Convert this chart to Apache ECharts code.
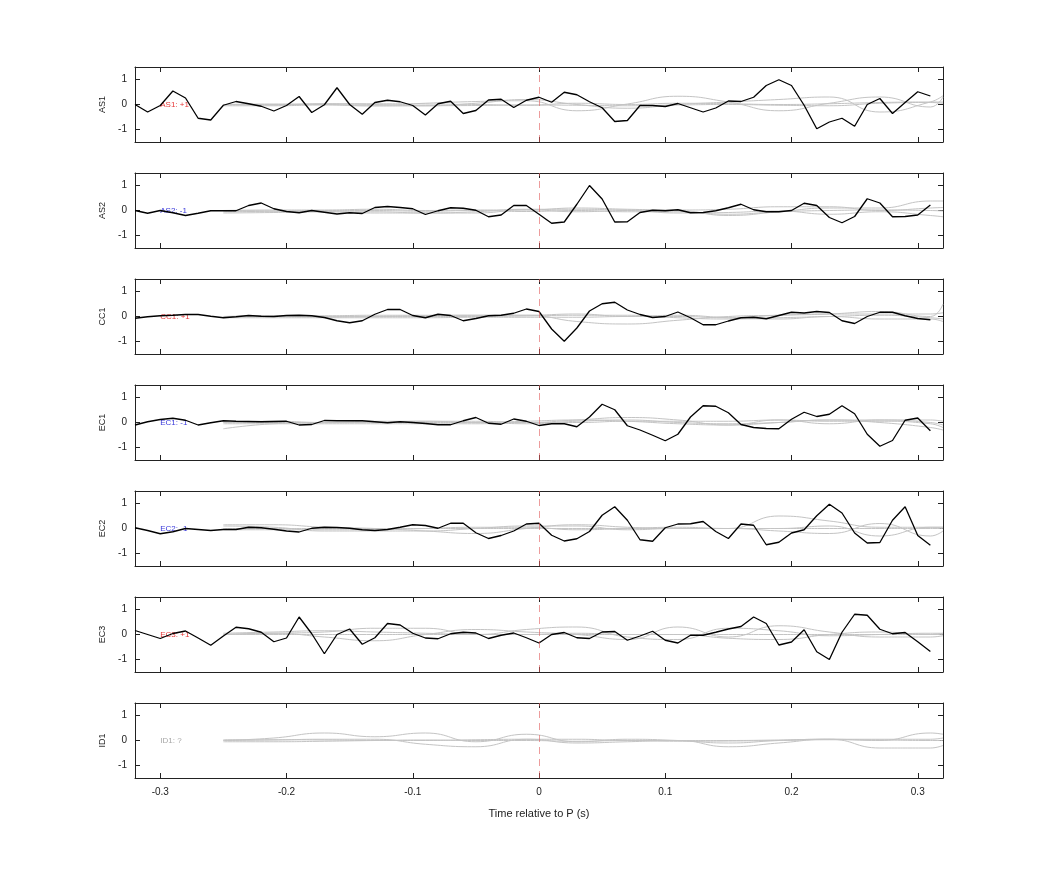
<!DOCTYPE html>
<html><head><meta charset="utf-8">
<script src="https://cdn.jsdelivr.net/npm/echarts@6/dist/echarts.min.js"></script>
<style>html,body{margin:0;background:#fff}#c{width:1042px;height:875px}</style>
</head><body><div id="c"></div>
<script>
const stations = ['AS1','AS2','CC1','EC1','EC2','EC3','ID1'];
const labels = ['AS1: +1','AS2: -1','CC1: +1','EC1: -1','EC2: -1','EC3: +1','ID1: ?'];
const labelColors = ['#e00000','#0000d0','#e00000','#0000d0','#0000d0','#e00000','#909090'];
const xTicks = [-0.3,-0.2,-0.1,0,0.1,0.2,0.3];
const yTicks = [-1,0,1];
// black traces, sampled every 0.01 s starting at -0.32 s
const AS1 = [0,-0.30,-0.04,0.54,0.26,-0.55,-0.62,-0.03,0.12,0.03,-0.07,-0.26,-0.04,0.32,-0.32,-0.01,0.67,0,-0.39,0.08,0.17,0.11,-0.04,-0.42,0.03,0.13,-0.36,-0.24,0.18,0.21,-0.12,0.17,0.29,0.09,0.49,0.39,0.11,-0.13,-0.68,-0.64,-0.04,-0.04,-0.08,0.04,-0.13,-0.30,-0.14,0.14,0.12,0.29,0.76,0.99,0.76,-0.03,-0.97,-0.70,-0.55,-0.87,0,0.24,-0.36,0.08,0.51,0.34];
const AS2 = [0,-0.11,0,-0.09,-0.20,-0.11,-0.01,-0.01,-0.01,0.20,0.30,0.07,-0.04,-0.09,0,-0.07,-0.14,-0.09,-0.12,0.12,0.16,0.12,0.07,-0.16,-0.01,0.11,0.09,0.01,-0.25,-0.18,0.20,0.20,-0.15,-0.51,-0.46,0.25,1.0,0.46,-0.46,-0.45,-0.08,0.01,-0.01,0.03,-0.09,-0.08,-0.01,0.11,0.25,0.03,-0.05,-0.05,0,0.29,0.20,-0.28,-0.49,-0.24,0.47,0.30,-0.25,-0.24,-0.18,0.22];
const CC1 = [-0.07,-0.01,0.03,0.05,0.08,0.08,0.01,-0.05,-0.01,0.04,0.01,0,0.04,0.05,0.03,-0.04,-0.17,-0.25,-0.17,0.09,0.28,0.28,0.04,-0.05,0.09,0.04,-0.17,-0.08,0.03,0.05,0.13,0.30,0.20,-0.50,-0.99,-0.46,0.22,0.51,0.57,0.26,0.08,-0.04,0,0.18,-0.05,-0.33,-0.33,-0.18,-0.05,-0.03,-0.09,0.04,0.17,0.14,0.20,0.16,-0.17,-0.28,0,0.17,0.17,0.03,-0.08,-0.13];
const EC1 = [-0.10,0.03,0.12,0.17,0.09,-0.10,-0.01,0.07,0.05,0.04,0.03,0.04,0.05,-0.10,-0.08,0.08,0.07,0.07,0.07,0.03,-0.01,0.03,0,-0.04,-0.09,-0.09,0.07,0.20,-0.03,-0.07,0.14,0.05,-0.12,-0.05,-0.05,-0.17,0.22,0.73,0.51,-0.13,-0.30,-0.51,-0.73,-0.47,0.22,0.67,0.65,0.39,-0.08,-0.20,-0.24,-0.25,0.13,0.41,0.24,0.33,0.67,0.35,-0.47,-0.95,-0.72,0.09,0.18,-0.33];
const EC2 = [0.03,-0.08,-0.21,-0.13,0,-0.04,-0.08,-0.04,-0.04,0.05,0.03,-0.03,-0.10,-0.14,0.01,0.05,0.04,0.01,-0.05,-0.08,-0.04,0.05,0.15,0.12,0.01,0.21,0.21,-0.17,-0.40,-0.28,-0.10,0.18,0.21,-0.27,-0.50,-0.41,-0.12,0.53,0.87,0.33,-0.45,-0.51,0.03,0.18,0.19,0.28,-0.12,-0.40,0.18,0.13,-0.65,-0.55,-0.18,-0.05,0.51,0.97,0.62,-0.18,-0.58,-0.56,0.33,0.87,-0.28,-0.67];
const EC3 = [0.16,0,-0.16,0.04,0.14,-0.14,-0.43,-0.06,0.29,0.23,0.09,-0.29,-0.14,0.70,0.03,-0.77,0,0.22,-0.39,-0.13,0.44,0.38,0.05,-0.14,-0.17,0.03,0.09,0.06,-0.16,-0.03,0.06,-0.13,-0.34,0,0.08,-0.13,-0.16,0.10,0.12,-0.23,-0.06,0.13,-0.23,-0.34,-0.03,-0.03,0.09,0.22,0.32,0.70,0.44,-0.42,-0.30,0.19,-0.69,-1.0,0.09,0.81,0.77,0.21,0.03,0.08,-0.29,-0.68];
const ID1 = null;
// gray traces sampled at these times
const grayT = [-0.25,-0.21,-0.17,-0.13,-0.09,-0.05,-0.01,0.03,0.07,0.11,0.15,0.19,0.23,0.27,0.31,0.32];
const grayAS1 = [[0,0.02,0,-0.03,0.05,0.12,0.15,-0.25,0.02,0.33,0.1,-0.25,0.05,0.3,-0.1,0.3],[0,-0.02,0.03,0,-0.05,0.05,0.2,0,-0.15,0,0.1,0.2,0.3,-0.3,0.1,0.35],[0,0,0.02,0.03,0.02,0,-0.03,0.05,0,0.05,0.03,0,0.03,0.08,0.1,0.1],[-0.05,-0.05,-0.02,-0.06,-0.05,-0.04,-0.02,-0.03,-0.05,-0.02,0,-0.03,-0.05,0.05,0.08,0.05]];
const grayAS2 = [[-0.1,-0.08,-0.05,-0.1,-0.1,-0.05,0.05,0.05,0.02,0,-0.2,-0.05,0.1,0.1,0.38,0.38],[0,0.02,0.02,0.05,0,0.02,0.02,0.1,0.05,0.02,0.05,0.15,0.15,0,0.1,0.12],[-0.05,-0.03,0,0,-0.03,0,-0.04,0,-0.05,-0.05,-0.15,-0.05,0,0.02,0,-0.02],[0,-0.02,-0.05,-0.05,-0.1,-0.1,0.03,-0.05,0,-0.1,-0.08,-0.02,-0.15,-0.05,-0.2,-0.25]];
const grayCC1 = [[0,0.03,0.03,0.05,0.05,0.05,0.05,-0.2,-0.3,-0.15,0,0.05,0.1,0.2,0,0.5],[0,0,-0.02,0,0.03,0.05,0.05,0.1,0,0.05,-0.05,-0.1,0,-0.1,-0.1,-0.2],[-0.05,-0.05,-0.05,-0.05,-0.05,-0.03,-0.03,-0.03,0,0,-0.05,0.05,0.1,0.1,0.1,0.15],[-0.02,0,0,0,0,0,0.02,0.05,0.05,-0.05,-0.1,-0.05,0,0.05,-0.05,-0.1]];
const grayEC1 = [[-0.25,-0.05,0,0,0.05,0.05,0,0.1,0.2,0.1,-0.1,0,0.1,0.1,0,-0.1],[0,0.05,0,0.05,0.05,0,0.05,0.1,0.05,-0.05,-0.1,0.1,0.05,0.05,-0.05,-0.2],[-0.05,-0.05,-0.05,-0.05,-0.05,-0.05,0,0,0.05,0.05,0.05,0.1,-0.05,0.1,0.1,0.05],[0,0,0,0,0,0,-0.05,0.05,0.1,0,-0.05,0,0.1,0,-0.2,-0.3]];
const grayEC2 = [[0.15,0.15,0.05,0,-0.1,-0.2,0,0.15,0.05,0,0,0.5,0.3,0.05,0.05,0.05],[0.1,0.05,-0.1,-0.1,-0.1,0,0.1,0.1,-0.05,0,0,-0.1,-0.2,0.2,-0.3,-0.1],[-0.05,-0.05,-0.05,-0.05,0,0.05,0.05,-0.05,0,0.05,0,0,0.1,-0.3,0.05,0.05],[0,0,0,0,0,0,0,0,0,0,0,0,0,0,0,0]];
const grayEC3 = [[0,0.05,0.1,0.25,0.25,0,0.2,0.3,-0.1,-0.2,0.25,0.15,-0.05,0,0.05,0.05],[0,0.05,-0.1,-0.25,0,0.2,0.1,0,-0.2,0.3,-0.1,0.35,0.1,-0.1,-0.1,-0.05],[0.05,0.1,0.15,0.1,0.05,0,0,0.05,0,0,-0.15,-0.2,0,0.1,0,0.05],[0,0,0,0,0,0,0,0,0,0,0,0,0,0,0,0]];
const grayID1 = [[0,0.1,0.3,0.15,0.3,-0.05,0.25,-0.05,0.05,0,-0.1,0,0.05,0,0.3,0.25],[0,0.02,0.05,0.05,-0.15,-0.25,0.05,-0.1,-0.05,0,-0.25,-0.1,0.05,-0.3,-0.3,-0.2],[0.03,0.03,0.02,0,0,0.03,0.05,0.05,0,0,0,0.02,0.05,0.05,0.05,0.1],[-0.05,-0.05,-0.03,0,0.02,0,0,-0.03,0,-0.03,-0.02,0,0.03,0.02,0,0]];

const blacks = [AS1,AS2,CC1,EC1,EC2,EC3,ID1];
const grays = [grayAS1,grayAS2,grayCC1,grayEC1,grayEC2,grayEC3,grayID1];
const times = AS1.map((_,k)=>Math.round((-0.32+k*0.01)*100)/100);

const tops=[67,173,279,385,491,597,703], H=75;
const font='Liberation Sans, Arial, sans-serif';
const grid=[],xAxis=[],yAxis=[],series=[];
stations.forEach((st,i)=>{
  grid.push({left:135,width:808,top:tops[i],height:H});
  const last = i===stations.length-1;
  const xb = {type:'value',gridIndex:i,min:-0.32,max:0.32,position:'bottom',
    axisLine:{show:true,onZero:false,lineStyle:{color:'#222'}},splitLine:{show:false},
    axisTick:{inside:true,length:5,customValues:xTicks,lineStyle:{color:'#222'}},
    axisLabel:{show:last,customValues:xTicks,color:'#222',fontSize:10,fontFamily:font,margin:9},
    name: last?'Time relative to P (s)':'',nameLocation:'middle',nameGap:30,
    nameTextStyle:{color:'#222',fontSize:11,fontFamily:font}};
  const xt = {type:'value',gridIndex:i,min:-0.32,max:0.32,position:'top',
    axisLine:{show:true,onZero:false,lineStyle:{color:'#222'}},splitLine:{show:false},
    axisTick:{inside:true,length:5,customValues:xTicks,lineStyle:{color:'#222'}},axisLabel:{show:false}};
  xAxis.push(xb,xt);
  yAxis.push({type:'value',gridIndex:i,min:-1.5,max:1.5,position:'left',
    axisLine:{show:true,onZero:false,lineStyle:{color:'#222'}},splitLine:{show:false},
    axisTick:{inside:true,length:5,customValues:yTicks,lineStyle:{color:'#222'}},
    axisLabel:{customValues:yTicks,color:'#222',fontSize:10,fontFamily:font,margin:8},
    name:st,nameLocation:'middle',nameGap:27,nameRotate:90,nameTextStyle:{color:'#222',fontSize:9,fontFamily:font}},
   {type:'value',gridIndex:i,min:-1.5,max:1.5,position:'right',
    axisLine:{show:true,onZero:false,lineStyle:{color:'#222'}},splitLine:{show:false},
    axisTick:{inside:true,length:5,customValues:yTicks,lineStyle:{color:'#222'}},axisLabel:{show:false}});
  grays[i].forEach((g,j)=>{
    series.push({type:'line',xAxisIndex:2*i,yAxisIndex:2*i,smooth:0.5,symbol:'none',silent:true,
      lineStyle:{color:'#c4c4c4',width:1},data:g.map((v,k)=>[grayT[k],v]),
      markLine: j===0?{silent:true,symbol:'none',label:{show:false},lineStyle:{color:'rgba(225,90,90,0.6)',type:[7,5],width:1},data:[{xAxis:0}]}:undefined});
  });
  if(blacks[i]) series.push({type:'line',xAxisIndex:2*i,yAxisIndex:2*i,symbol:'none',silent:true,
    lineStyle:{color:'#000',width:1.3},data:blacks[i].map((v,k)=>[times[k],v])});
  series.push({type:'scatter',xAxisIndex:2*i,yAxisIndex:2*i,symbolSize:0,silent:true,data:[[-0.3,0]],
    label:{show:true,position:'right',distance:0,formatter:labels[i],color:labelColors[i],fontSize:8,fontFamily:font}});
});
const chart=echarts.init(document.getElementById('c'));
chart.setOption({animation:false,backgroundColor:'#fff',grid,xAxis,yAxis,series});
</script></body></html>
